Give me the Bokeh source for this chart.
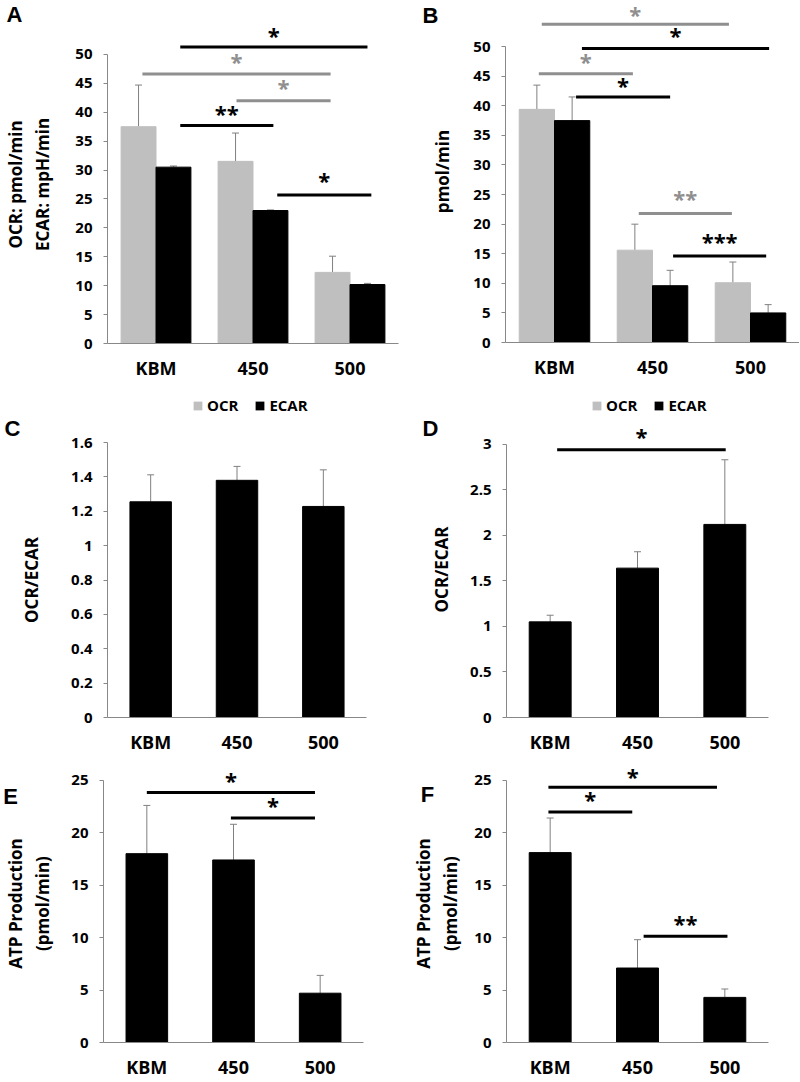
from bokeh.plotting import figure
from bokeh.models import (Range1d, FixedTicker, Whisker, ColumnDataSource, Legend,
                          LegendItem, Label, TeeHead)
from bokeh.layouts import column, row
from bokeh.embed import file_html
from bokeh.resources import INLINE
from bokeh.core.properties import value

FONT = "Open Sans"
LETTER_FONT = "Liberation Sans"
GRAY_BAR = "#bfbfbf"
SIG_GRAY = "#8f8f8f"
AXIS_GRAY = "#888888"
ERR_GRAY = "#808080"

categories = ["KBM", "450", "500"]
series = ["OCR", "ECAR"]

# ---- Panel A: OCR / ECAR ----
a_ocr = [37.5, 31.5, 12.3]
a_ocr_err = [7.2, 4.9, 2.8]
a_ecar = [30.5, 23.0, 10.2]
a_ecar_err = [0.2, 0.1, 0.2]
a_sig_from = [0.75, 0.36, 1.33, 0.75, 1.75]
a_sig_to = [2.68, 2.30, 2.30, 1.71, 2.72]
a_sig_y = [51.3, 46.6, 42.0, 37.7, 25.7]
a_star_y = [53.4, 48.9, 44.3, 39.8, 28.3]
a_star = ["*", "*", "*", "**", "*"]
a_sig_series = ["ECAR", "OCR", "OCR", "ECAR", "ECAR"]

# ---- Panel B: OCR / ECAR ----
b_ocr = [39.4, 15.6, 10.1]
b_ocr_err = [4.1, 4.4, 3.5]
b_ecar = [37.5, 9.6, 5.0]
b_ecar_err = [4.0, 2.6, 1.4]
b_sig_from = [0.37, 0.78, 0.34, 0.72, 1.36, 1.71]
b_sig_to = [2.28, 2.69, 1.30, 1.68, 2.31, 2.66]
b_sig_y = [53.8, 49.7, 45.4, 41.5, 21.8, 14.6]
b_star_y = [55.6, 51.9, 47.5, 43.5, 24.4, 17.2]
b_star = ["*", "*", "*", "*", "**", "***"]
b_sig_series = ["OCR", "ECAR", "OCR", "ECAR", "OCR", "ECAR"]

# ---- Panel C: OCR/ECAR ratio ----
c_ratio = [1.255, 1.38, 1.228]
c_ratio_err = [0.157, 0.081, 0.213]

# ---- Panel D: OCR/ECAR ratio ----
d_ratio = [1.05, 1.64, 2.12]
d_ratio_err = [0.073, 0.18, 0.71]
d_sig_from = [0.58]
d_sig_to = [2.51]
d_sig_y = [2.94]
d_star_y = [3.09]
d_star = ["*"]

# ---- Panel E: ATP production ----
e_atp = [18.0, 17.4, 4.7]
e_atp_err = [4.6, 3.4, 1.7]
e_sig_from = [0.50, 1.47]
e_sig_to = [2.44, 2.44]
e_sig_y = [23.84, 21.4]
e_star_y = [25.06, 22.66]
e_star = ["*", "*"]

# ---- Panel F: ATP production ----
f_atp = [18.1, 7.1, 4.3]
f_atp_err = [3.3, 2.7, 0.8]
f_sig_from = [0.48, 0.48, 1.57]
f_sig_to = [2.41, 1.44, 2.53]
f_sig_y = [24.34, 21.98, 10.13]
f_star_y = [25.38, 23.18, 11.38]
f_star = ["*", "*", "**"]

xpos = [i + 0.5 for i in range(len(categories))]


def fmt(t):
    return ("%g" % t)


def make_fig(w, h, left, right, top, bottom, ymax, ybound, step, ylabel, lab_standoff):
    p = figure(width=w, height=h, min_border_left=left, min_border_right=right,
               min_border_top=top, min_border_bottom=bottom, title=None,
               x_range=Range1d(0, 3), y_range=Range1d(0, ymax),
               output_backend="svg", toolbar_location=None, tools="")
    try:
        p.frame_align = False
    except AttributeError:
        pass
    p.outline_line_color = None
    p.grid.visible = False
    n = int(round(ybound / step))
    yticks = [round(i * step, 6) for i in range(n + 1)]
    ya = p.yaxis[0]
    ya.ticker = FixedTicker(ticks=yticks)
    ya.major_label_overrides = {t: fmt(t) for t in yticks}
    ya.bounds = (0, ybound)
    ya.axis_line_color = AXIS_GRAY
    ya.major_tick_line_color = AXIS_GRAY
    ya.minor_tick_line_color = None
    ya.major_tick_out = 4
    ya.major_tick_in = 0
    ya.major_label_standoff = 11
    ya.major_label_text_font = FONT
    ya.major_label_text_font_style = "bold"
    ya.major_label_text_font_size = "15px"
    ya.major_label_text_color = "black"
    ya.axis_label = ylabel
    ya.axis_label_text_font = FONT
    ya.axis_label_text_font_style = "bold"
    ya.axis_label_text_font_size = "17px"
    ya.axis_label_text_color = "black"
    ya.axis_label_standoff = lab_standoff
    xa = p.xaxis[0]
    xa.ticker = FixedTicker(ticks=xpos)
    xa.major_label_overrides = {x: c for x, c in zip(xpos, categories)}
    xa.axis_line_color = AXIS_GRAY
    xa.major_tick_line_color = None
    xa.minor_tick_line_color = None
    xa.major_tick_out = 0
    xa.major_tick_in = 0
    xa.major_label_standoff = 12
    xa.major_label_text_font = FONT
    xa.major_label_text_font_style = "bold"
    xa.major_label_text_font_size = "18px"
    xa.major_label_text_color = "black"
    return p


def add_err(p, xs, vals, errs):
    src = ColumnDataSource(dict(x=xs, base=vals, top=[v + e for v, e in zip(vals, errs)]))
    w = Whisker(source=src, base="x", lower="base", upper="top", dimension="height",
                line_color=ERR_GRAY, line_width=1, lower_head=None,
                upper_head=TeeHead(size=7, line_color=ERR_GRAY, line_width=1))
    p.add_layout(w)


def add_sig(p, x0, x1, y, sy, stars, colors):
    src = ColumnDataSource(dict(x0=x0, x1=x1, y=y, sy=sy, xm=[(a + b) / 2 for a, b in zip(x0, x1)],
                                t=stars, c=colors))
    p.segment(x0="x0", y0="y", x1="x1", y1="y", line_color="c", line_width=3, source=src)
    p.text(x="xm", y="sy", text="t", text_color="c", text_font=value(FONT),
           text_font_style="bold", text_font_size="22px", text_align="center",
           text_baseline="middle", source=src)


def paired(p, ocr, ocr_err, ecar, ecar_err, width, off):
    xo = [x - off for x in xpos]
    xe = [x + off for x in xpos]
    p.vbar(x=xo, top=ocr, width=width, fill_color=GRAY_BAR, line_color=GRAY_BAR)
    p.vbar(x=xe, top=ecar, width=width, fill_color="black", line_color="black")
    add_err(p, xo, ocr, ocr_err)
    add_err(p, xe, ecar, ecar_err)


def legend_fig(w, h, loc_x):
    p = figure(width=w, height=h, x_range=Range1d(0, 1), y_range=Range1d(0, 1), title=None,
               x_axis_type=None, y_axis_type=None, min_border=0,
               output_backend="svg", toolbar_location=None, tools="")
    p.outline_line_color = None
    # zero-height swatch carriers: only their colours are shown, in the legend
    r1 = p.vbar(x=[0], top=[0], bottom=[0], width=0, fill_color=GRAY_BAR, line_color=None)
    r2 = p.vbar(x=[0], top=[0], bottom=[0], width=0, fill_color="black", line_color=None)
    leg = Legend(items=[LegendItem(label=series[0], renderers=[r1]),
                        LegendItem(label=series[1], renderers=[r2])],
                 orientation="horizontal", location=(loc_x, 0), border_line_color=None,
                 background_fill_alpha=0, label_text_font=FONT, label_text_font_style="bold",
                 label_text_font_size="15px", label_text_color="black",
                 glyph_width=11, glyph_height=11, spacing=16,
                 label_standoff=4, padding=1, margin=0, label_height=20)
    p.add_layout(leg)
    return p


def series_color(s):
    return SIG_GRAY if s == "OCR" else "black"


def letter_label(p, text, x, y, side):
    p.add_layout(Label(x=x, y=y, x_units="canvas", y_units="canvas", text=text,
                       text_font=LETTER_FONT, text_font_style="bold", text_font_size="22px",
                       text_align="center", text_baseline="middle", text_color="black"), side)


# Row 1 ----------------------------------------------------------------
pa = make_fig(400, 389, 107, 2, 23, 46, 55, 50, 5, "OCR: pmol/min\nECAR: mpH/min", 18)
paired(pa, a_ocr, a_ocr_err, a_ecar, a_ecar_err, 0.36, 0.18)
add_sig(pa, a_sig_from, a_sig_to, a_sig_y, a_star_y, a_star, [series_color(s) for s in a_sig_series])
letter_label(pa, "A", 14, 14, "above")

pb = make_fig(399, 389, 105, 0, 0, 47, 57.8, 50, 5, "pmol/min", 16)
paired(pb, b_ocr, b_ocr_err, b_ecar, b_ecar_err, 0.36, 0.18)
add_sig(pb, b_sig_from, b_sig_to, b_sig_y, b_star_y, b_star, [series_color(s) for s in b_sig_series])
letter_label(pb, "B", 30, 15, "left")

# Legend row -------------------------------------------------------------
leg_a = legend_fig(400, 26, 192)
leg_b = legend_fig(399, 26, 191)

# Row 2 ----------------------------------------------------------------
pc = make_fig(400, 342, 107, 34, 27, 40, 1.6, 1.6, 0.2, "OCR/ECAR", 25)
pc.vbar(x=xpos, top=c_ratio, width=0.48, fill_color="black", line_color="black")
add_err(pc, xpos, c_ratio, c_ratio_err)
letter_label(pc, "C", 12, 13, "left")

pd_ = make_fig(399, 342, 106, 31, 6, 40, 3.25, 3, 0.5, "OCR/ECAR", 14)
pd_.vbar(x=xpos, top=d_ratio, width=0.48, fill_color="black", line_color="black")
add_err(pd_, xpos, d_ratio, d_ratio_err)
add_sig(pd_, d_sig_from, d_sig_to, d_sig_y, d_star_y, d_star, ["black"])
letter_label(pd_, "D", 30, 13, "left")

# Row 3 ----------------------------------------------------------------
pe = make_fig(400, 324, 102, 37, 7, 38, 26.5, 25, 5, "ATP Production\n(pmol/min)", 14)
pe.vbar(x=xpos, top=e_atp, width=0.48, fill_color="black", line_color="black")
add_err(pe, xpos, e_atp, e_atp_err)
add_sig(pe, e_sig_from, e_sig_to, e_sig_y, e_star_y, e_star, ["black"] * 2)
letter_label(pe, "E", 10, 39, "right")

pf = make_fig(399, 324, 106, 31, 7, 38, 26.5, 25, 5, "ATP Production\n(pmol/min)", 9)
pf.vbar(x=xpos, top=f_atp, width=0.48, fill_color="black", line_color="black")
add_err(pf, xpos, f_atp, f_atp_err)
add_sig(pf, f_sig_from, f_sig_to, f_sig_y, f_star_y, f_star, ["black"] * 3)
letter_label(pf, "F", 27, 37, "right")

layout = column(row(pa, pb, spacing=0), row(leg_a, leg_b, spacing=0),
                row(pc, pd_, spacing=0), row(pe, pf, spacing=0), spacing=0)
open("out.html", "w").write(file_html(layout, INLINE))
